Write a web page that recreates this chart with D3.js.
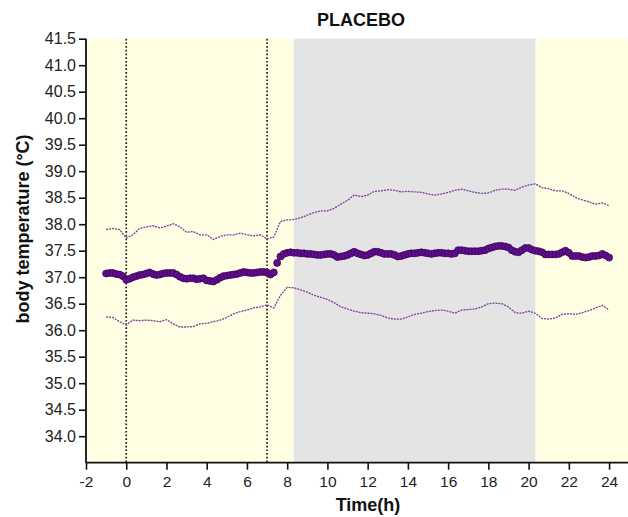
<!DOCTYPE html>
<html>
<head>
<meta charset="utf-8">
<script src="https://cdn.jsdelivr.net/npm/d3@7/dist/d3.min.js"></script>
<style>
  html, body { margin: 0; padding: 0; background: #fff; }
  svg { display: block; font-family: "Liberation Sans", Arial, Helvetica, sans-serif; }
</style>
</head>
<body>
<svg id="chart" width="628" height="517"></svg>
<script>
// ---- data ----
const title = "PLACEBO";
const xLabel = "Time(h)";
const yLabel = "body temperature (°C)";
const xTicks = [-2, 0, 2, 4, 6, 8, 10, 12, 14, 16, 18, 20, 22, 24];
const yTicks = [34.0, 34.5, 35.0, 35.5, 36.0, 36.5, 37.0, 37.5, 38.0, 38.5, 39.0, 39.5, 40.0, 40.5, 41.0, 41.5];
const darkPeriod = [8.33, 20.33];     // grey band (hours)
const markerTimes = [0, 7];           // dotted vertical lines (hours)

// mean temperature, every 10 min from -1 h to 24 h
const meanStart = -1, meanStep = 1 / 6;
const meanTemp = [
  37.07, 37.08, 37.08, 37.06, 37.05, 37.02,
  36.95, 36.97, 37.00, 37.02, 37.04, 37.05,
  37.07, 37.09, 37.06, 37.04, 37.05, 37.07,
  37.08, 37.08, 37.08, 37.05, 37.01, 36.98,
  36.97, 36.98, 36.98, 36.96, 36.97, 36.98,
  36.94, 36.93, 36.92, 36.95, 36.99, 37.02,
  37.03, 37.04, 37.05, 37.06, 37.08, 37.10,
  37.09, 37.08, 37.08, 37.09, 37.10, 37.10,
  37.09, 37.05, 37.09, 37.27, 37.39, 37.44,
  37.46, 37.47, 37.46, 37.46, 37.45, 37.45,
  37.44, 37.44, 37.43, 37.42, 37.42, 37.43,
  37.44, 37.44, 37.42, 37.38, 37.39, 37.40,
  37.42, 37.45, 37.48, 37.45, 37.43, 37.41,
  37.42, 37.45, 37.48, 37.48, 37.46, 37.44,
  37.44, 37.44, 37.42, 37.39, 37.40, 37.42,
  37.44, 37.45, 37.45, 37.46, 37.47, 37.46,
  37.45, 37.44, 37.45, 37.46, 37.46, 37.45,
  37.45, 37.44, 37.45, 37.51, 37.51, 37.50,
  37.49, 37.49, 37.49, 37.49, 37.50, 37.51,
  37.54, 37.56, 37.58, 37.59, 37.59, 37.58,
  37.56, 37.51, 37.48, 37.47, 37.51, 37.55,
  37.55, 37.52, 37.50, 37.49, 37.47, 37.43,
  37.43, 37.43, 37.43, 37.44, 37.47, 37.50,
  37.46, 37.40, 37.40, 37.40, 37.38, 37.37,
  37.38, 37.40, 37.40, 37.41, 37.44, 37.41,
  37.37
];

// upper / lower bounds, every 20 min from -1 h to 24 h
const boundStart = -1, boundStep = 1 / 3;
const upperTemp = [
  37.90, 37.92, 37.90, 37.74, 37.80, 37.92, 37.95, 37.97, 37.93, 37.96,
  38.01, 37.95, 37.85, 37.86, 37.80, 37.80, 37.71, 37.77, 37.80, 37.80,
  37.83, 37.80, 37.78, 37.80, 37.72, 37.76, 38.05, 38.08, 38.09, 38.12,
  38.17, 38.22, 38.25, 38.25, 38.30, 38.38, 38.45, 38.55, 38.52, 38.55,
  38.62, 38.63, 38.65, 38.64, 38.61, 38.62, 38.61, 38.60, 38.57, 38.55,
  38.57, 38.60, 38.64, 38.66, 38.63, 38.60, 38.58, 38.59, 38.64, 38.66,
  38.66, 38.64, 38.70, 38.74, 38.76, 38.69, 38.67, 38.63, 38.63, 38.58,
  38.50, 38.46, 38.42, 38.38, 38.40, 38.35
];
const lowerTemp = [
  36.25, 36.24, 36.16, 36.10, 36.19, 36.18, 36.19, 36.18, 36.16, 36.20,
  36.12, 36.06, 36.06, 36.07, 36.12, 36.13, 36.16, 36.19, 36.24, 36.31,
  36.35, 36.38, 36.42, 36.44, 36.48, 36.42, 36.66, 36.81, 36.80, 36.76,
  36.72, 36.66, 36.62, 36.58, 36.52, 36.44, 36.40, 36.36, 36.33, 36.32,
  36.31, 36.28, 36.23, 36.21, 36.21, 36.25, 36.30, 36.32, 36.35, 36.37,
  36.38, 36.36, 36.32, 36.38, 36.39, 36.40, 36.44, 36.50, 36.51, 36.50,
  36.44, 36.33, 36.32, 36.36, 36.32, 36.22, 36.21, 36.23, 36.30, 36.31,
  36.30, 36.33, 36.37, 36.42, 36.47, 36.38
];

(function () {
  const svg = d3.select("#chart");
  const pLeft = 86, pRight = 629.2, pTop = 38.7, pBottom = 462.7;

  const x = d3.scaleLinear().domain([-2, 25]).range([pLeft, pRight]);
  const y = d3.scaleLinear().domain([33.5, 41.5]).range([pBottom, pTop]);

  const meanData = meanTemp.map((v, i) => ({ t: meanStart + i * meanStep, v }));
  const upperData = upperTemp.map((v, i) => ({ t: boundStart + i * boundStep, v }));
  const lowerData = lowerTemp.map((v, i) => ({ t: boundStart + i * boundStep, v }));

  // backgrounds
  svg.append("rect")
    .attr("x", x(-2)).attr("y", y(41.5))
    .attr("width", x(25) - x(-2)).attr("height", y(33.5) - y(41.5))
    .attr("fill", "#fffee2");
  svg.append("rect")
    .attr("x", x(darkPeriod[0])).attr("y", y(41.5))
    .attr("width", x(darkPeriod[1]) - x(darkPeriod[0])).attr("height", y(33.5) - y(41.5))
    .attr("fill", "#e4e4e4");

  // dotted vertical lines
  svg.selectAll("line.marker").data(markerTimes).enter().append("line")
    .attr("class", "marker")
    .attr("x1", d => x(d)).attr("x2", d => x(d))
    .attr("y1", y(41.5)).attr("y2", y(33.5))
    .attr("stroke", "#222").attr("stroke-width", 1.7)
    .attr("stroke-dasharray", "1.7 2");

  // bound lines
  const line = d3.line().x(d => x(d.t)).y(d => y(d.v)).curve(d3.curveLinear);
  [upperData, lowerData].forEach(data => {
    svg.append("path").datum(data)
      .attr("d", line)
      .attr("fill", "none")
      .attr("stroke", "#7a3f99")
      .attr("stroke-width", 1.3)
      .attr("stroke-dasharray", "2 1");
  });

  // mean dots
  svg.append("g").selectAll("circle").data(meanData).enter().append("circle")
    .attr("cx", d => x(d.t)).attr("cy", d => y(d.v)).attr("r", 3.5)
    .attr("fill", "#5e0f8c").attr("stroke", "#3d005c").attr("stroke-width", 0.8);

  // axes
  const yAxis = d3.axisLeft(y).tickValues(yTicks).tickFormat(d3.format(".1f")).tickSize(7).tickPadding(3);
  const gy = svg.append("g").attr("transform", `translate(${pLeft},0)`).call(yAxis);
  const xAxis = d3.axisBottom(x).tickValues(xTicks).tickFormat(d => String(d)).tickSize(7).tickPadding(6);
  const gx = svg.append("g").attr("transform", `translate(0,${pBottom})`).call(xAxis);

  [gx, gy].forEach(g => {
    g.select(".domain").attr("stroke", "#111").attr("stroke-width", 1.8);
    g.selectAll(".tick line").attr("stroke", "#111").attr("stroke-width", 1.6);
    g.selectAll(".tick text").attr("fill", "#222")
      .style("font-family", '"Liberation Sans", Arial, Helvetica, sans-serif');
  });
  gy.selectAll(".tick text").style("font-size", "16px");
  gx.selectAll(".tick text").style("font-size", "15.5px");
  gy.select(".domain").attr("d", `M0,${pBottom}V${pTop}`);
  gx.select(".domain").attr("d", `M${pLeft},0H${pRight}`);

  // titles
  svg.append("text").attr("x", 361).attr("y", 26)
    .attr("text-anchor", "middle").attr("font-weight", "bold").attr("font-size", 18)
    .attr("fill", "#111").text(title);
  svg.append("text").attr("x", 368).attr("y", 511)
    .attr("text-anchor", "middle").attr("font-weight", "bold").attr("font-size", 18)
    .attr("fill", "#111").text(xLabel);
  svg.append("text").attr("transform", "translate(29,229) rotate(-90)")
    .attr("text-anchor", "middle").attr("font-weight", "bold").attr("font-size", 18)
    .attr("fill", "#111").text(yLabel);
})();
</script>
</body>
</html>
